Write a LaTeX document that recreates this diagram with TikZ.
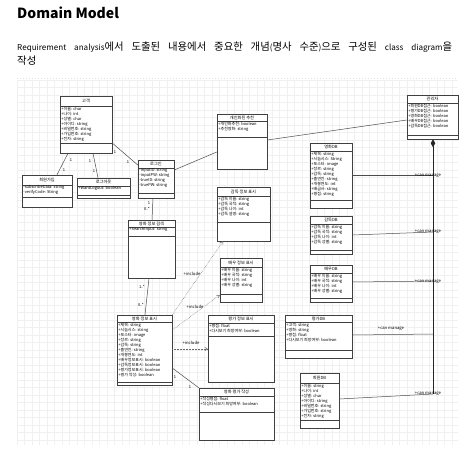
\documentclass[tikz,border=0pt]{standalone}
\usepackage{fontspec}
\setmainfont{Noto Sans CJK KR}
\usetikzlibrary{arrows.meta}
\newcommand\K[1]{{\fontsize{10.4}{12}\selectfont #1}}
\tikzset{
 cls/.style={draw=black!75, fill=white, line width=0.5pt, inner sep=0pt, rectangle},
 sepl/.style={draw=black!75, line width=0.4pt},
 ctitle/.style={font=\fontsize{4.2}{5}\selectfont, inner sep=0pt},
 cattr/.style={font=\fontsize{4}{5}\selectfont, inner sep=0pt, align=left, anchor=north west},
 assoc/.style={draw=black!70, line width=0.5pt},
 incl/.style={draw=black!60, densely dotted, line width=0.5pt, -{Straight Barb[length=2.5pt,width=3.5pt]}},
 mult/.style={font=\fontsize{4}{4}\selectfont, inner sep=0pt},
 lbl/.style={font=\fontsize{4.2}{5}\selectfont, inner sep=0pt},
}
\newcommand\umlcls[9]{%
 \fill[black!22] ({#2+1.2},{#3+1.2}) rectangle ({#4+1.2},{#5+1.2});
 \node[cls, minimum width={#4-#2}, minimum height={#5-#3}] (#1) at ({(#2+#4)/2},{(#3+#5)/2}) {};
 \draw[sepl] (#2,#7) -- (#4,#7);
 \draw[sepl] (#2,#8) -- (#4,#8);
 \node[ctitle] (#1-t) at ({(#2+#4)/2},{(#3+#7)/2}) {#6};
 \node[cattr] (#1-a) at ({#2+1.2},{#7+0.6}) {#9};
}
\begin{document}
\begin{tikzpicture}[x=1pt,y=-1pt]
\useasboundingbox (0,0) rectangle (465,451);
\fill[white] (0,0) rectangle (465,451);
% grid
\foreach \gx in {17,24.5,...,458} \draw[black!6, line width=0.3pt] (\gx,80) -- (\gx,445);
\foreach \gy in {80,87.5,...,445} \draw[black!6, line width=0.3pt] (17,\gy) -- (458,\gy);
\draw[black!12, dash pattern=on 1pt off 2pt, line width=0.4pt] (17,78) -- (458,78);
% title
\node[anchor=west, font=\fontsize{14}{16}\selectfont\bfseries, inner sep=0pt] (title) at (17,13) {Domain Model};
\node[anchor=base west, font=\fontsize{8.1}{9}\selectfont, inner sep=0pt] (sub1) at (17,50)
 {\hbox to 435pt{Requirement\hfil analysis\K{에서}\hfil \K{도출된}\hfil \K{내용에서}\hfil \K{중요한}\hfil \K{개념}(\K{명사}\hfil \K{수준})\K{으로}\hfil \K{구성된}\hfil class\hfil diagram\K{을}}};
\node[anchor=base west, font=\fontsize{8.1}{9}\selectfont, inner sep=0pt] (sub2) at (17,64) {\K{작성}};

% classes
\umlcls{cust}{60}{96}{112}{153}{고객}{106}{143}{+이름: char\\+나이: int\\+성별: char\\+아이디: string\\+비밀번호: string\\+가입번호: string\\+전자: string}
\umlcls{join}{22}{175}{72}{207}{회원가입}{185}{197}{-subscribeData: string\\-verifyCode: String}
\umlcls{logout}{77}{178}{130}{198}{로그아웃}{186}{195}{+WantLogout: boolean}
\umlcls{login}{138}{160}{174}{198}{로그인}{168}{193}{-inputID: string\\-inputPW: string\\-trueID: string\\-truePW: string}
\umlcls{search}{128}{220}{175}{278}{영화 정보 검색}{227}{236}{+SearchInput: string}
\umlcls{recom}{217}{114}{267}{169}{개인화된 추천}{121}{137}{+개인화추천: boolean\\+추천영화: string}
\umlcls{dirv}{217}{187}{270}{241}{감독 정보 표시}{196}{222}{+감독 이름: string\\+감독 국적: string\\+감독 나이: int\\+감독 설명: string}
\umlcls{actv}{220}{258}{262}{302}{배우 정보 표시}{267}{294}{+배우 이름: string\\+배우 국적: string\\+배우 나이: int\\+배우 성별: string}
\umlcls{ratev}{208}{315}{274}{382}{평가 정보 표시}{323}{336}{+평점: float\\+다시보기 희망여부: boolean}
\umlcls{movv}{117}{315}{172}{385}{영화 정보 표시}{322}{382}{+제목: string\\+시놉시스: string\\+포스터: image\\+장르: string\\+감독: string\\+출연진: string\\+개봉연도: int\\+배우정보표시: boolean\\+감독정보표시: boolean\\+평가정보표시: boolean\\+평가 작성: boolean}
\umlcls{review}{199}{388}{274}{440}{영화 평가 작성}{396}{412}{+작성평점: float\\+작성다시보기 희망여부: boolean}
\umlcls{rdb}{285}{315}{352}{358}{평가DB}{322}{350}{+고객: string\\+영화: string\\+평점: float\\+다시보기 희망여부: boolean}
\umlcls{mdb}{300}{373}{339}{428}{회원DB}{383}{420}{+이름: string\\+나이: int\\+성별: char\\+아이디: string\\+비밀번호: string\\+가입번호: string\\+전자: string}
\umlcls{movdb}{310}{143}{352}{208}{영화DB}{151}{200}{+제목: string\\+시놉시스: String\\+포스터: image\\+장르: string\\+감독: string\\+출연진: string\\+개봉연도: int\\+배급사: string\\+평점: string}
\umlcls{ddb}{310}{216}{352}{254}{감독DB}{224}{250}{+감독 이름: string\\+감독 국적: string\\+감독 나이: int\\+감독 성별: string}
\umlcls{adb}{310}{265}{352}{302}{배우DB}{273}{298}{+배우 이름: string\\+배우 국적: string\\+배우 나이: int\\+배우 성별: string}
\umlcls{admin}{407}{95}{458}{139}{관리자}{103}{135}{+회원DB접근: boolean\\+평가DB접근: boolean\\+영화DB접근: boolean\\+배우DB접근: boolean\\+감독DB접근: boolean}

% associations
\draw[assoc] (cust.south -| 68,0) -- (join.north -| 57,0);
\node[mult] at (71,160) {1}; \node[mult] at (64,170) {1};
\draw[assoc] (cust.south -| 93,0) -- (logout.north -| 98,0);
\node[mult] at (90,161) {1}; \node[mult] at (94,171) {1};
\draw[assoc] (cust.east |- 0,143) -- (login.west |- 0,165);
\node[mult] at (115,152) {1}; \node[mult] at (128,162) {1};
\draw[assoc] (login.south -| 153,0) -- (search.north -| 152,0);
\node[mult] at (149,203) {1}; \node[mult] at (147,209) {0..*};
\draw[assoc] (login.east |- 0,170) -- (recom.west |- 0,152);
\draw[assoc] (recom.east |- 0,140) -- (admin.west |- 0,120);
\draw[assoc] (search.south -| 149,0) -- (movv.north -| 145,0);
\node[mult] at (142,287) {1..*}; \node[mult] at (141,305) {0..*};
\draw[assoc] (movv.east |- 0,368) -- (review.north west);
\node[mult] at (175,377) {1}; \node[mult] at (190,387) {1};

% includes
\draw[incl] (movv.north east) -- (dirv.south west -| 223,0);
\node[lbl] at (192,274) {+include};
\draw[incl] (movv.east |- 0,330) -- (actv.south west |- 0,295);
\node[lbl] at (195,307) {+include};
\draw[incl] (movv.east |- 0,349) -- (ratev.west |- 0,349);
\node[lbl] at (191,343) {+include};

% admin composition
\coordinate (bus) at (433,394);
\draw[draw=black!85, line width=0.9pt, {Diamond[length=8pt,width=4.5pt]}-] (admin.south -| 433,0) -- (bus);
\draw[assoc] (movdb.east |- 0,175) -- (433,175);
\node[lbl] at (428,176) {+can manage};
\draw[assoc] (ddb.east |- 0,235) -- (433,232);
\node[lbl] at (428,232) {+can manage};
\draw[assoc] (adb.east |- 0,282) -- (433,281);
\node[lbl] at (428,282) {+can manage};
\draw[assoc] (rdb.east |- 0,335) -- (433,334);
\node[lbl] at (391,329) {+can manage};
\draw[assoc] (mdb.east |- 0,399) -- (bus);
\node[lbl] at (428,394) {+can manage};
\end{tikzpicture}
\end{document}
